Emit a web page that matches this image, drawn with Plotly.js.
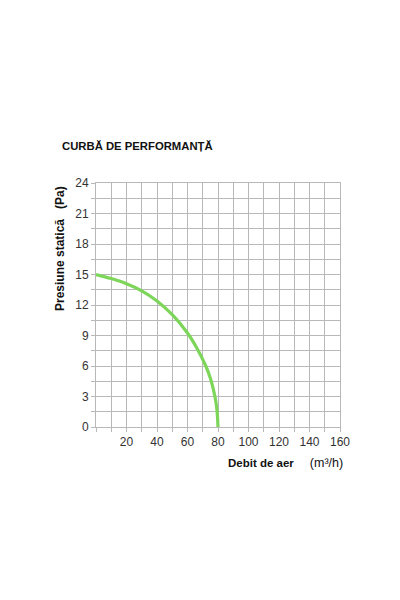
<!DOCTYPE html>
<html>
<head>
<meta charset="utf-8">
<script src="https://cdn.plot.ly/plotly-3.0.1.min.js"></script>
<style>html,body{margin:0;padding:0;background:#fff;}#chart{width:400px;height:600px;}</style>
</head>
<body>
<div id="chart"></div>
<script>
const flowValues = [0, 10, 20, 30, 40, 50, 60, 66, 72, 75, 78, 79.3, 80];
const pressureValues = [15, 14.6, 14.1, 13.4, 12.4, 11.05, 9.25, 7.8, 6.0, 4.8, 3.0, 1.7, 0];
const xTickVals = [20, 40, 60, 80, 100, 120, 140, 160];
const yTickVals = [0, 3, 6, 9, 12, 15, 18, 21, 24];
const chartTitle = "CURBĂ DE PERFORMANȚĂ";
const xTitleMain = "Debit de aer";
const xTitleUnit = "(m³/h)";
const yTitleMain = "Presiune statică";
const yTitleUnit = "(Pa)";

const font = 'Liberation Sans, Arial, sans-serif';
const data = [{
  x: flowValues, y: pressureValues, type: 'scatter', mode: 'lines',
  line: {color: '#7dd65a', width: 3.2, shape: 'spline', smoothing: 1},
  hoverinfo: 'skip'
}];
const layout = {
  width: 400, height: 600,
  margin: {l: 96, r: 60, t: 183, b: 173},
  paper_bgcolor: '#fff', plot_bgcolor: '#fff',
  showlegend: false,
  font: {family: font, size: 12, color: '#333'},
  title: {text: '<b>' + chartTitle + '</b>', xref: 'container', yref: 'container',
          x: 62/400, xanchor: 'left', y: 1 - 146/600, yanchor: 'middle',
          font: {family: font, size: 11.3, color: '#111'}},
  xaxis: {range: [0, 160], tickvals: xTickVals, ticktext: xTickVals.map(String),
          showgrid: true, gridcolor: '#b8b8b8', gridwidth: 1,
          ticks: 'outside', ticklen: 4, tickcolor: '#b8b8b8',
          minor: {dtick: 10, tick0: 0, showgrid: true, gridcolor: '#b8b8b8', ticks: 'outside', ticklen: 4, tickcolor: '#b8b8b8'},
          showline: true, linecolor: '#b8b8b8', zeroline: false, mirror: true,
          tickfont: {size: 12, color: '#333'}, fixedrange: true},
  yaxis: {range: [0, 24], tickvals: yTickVals, ticktext: yTickVals.map(String),
          showgrid: true, gridcolor: '#b8b8b8', gridwidth: 1,
          ticks: 'outside', ticklen: 4, tickcolor: '#b8b8b8',
          minor: {dtick: 1.5, tick0: 0, showgrid: true, gridcolor: '#b8b8b8', ticks: 'outside', ticklen: 4, tickcolor: '#b8b8b8'},
          showline: true, linecolor: '#b8b8b8', zeroline: false, mirror: true,
          tickfont: {size: 12, color: '#333'}, fixedrange: true},
  annotations: [
    {text: '<b>' + yTitleMain + '\u00a0\u00a0\u00a0' + yTitleUnit + '</b>', xref: 'paper', yref: 'paper',
     x: (60-96)/244, y: (427-249)/244, xanchor: 'center', yanchor: 'middle',
     textangle: -90, showarrow: false, font: {family: font, size: 12, color: '#111'}},
    {text: '<b>' + xTitleMain + '</b>\u00a0\u00a0\u00a0\u00a0\u00a0<span style="font-size:12.5px">' + xTitleUnit + '</span>', xref: 'paper', yref: 'paper',
     x: (226-96)/244, y: (427-463)/244, xanchor: 'left', yanchor: 'middle',
     showarrow: false, font: {family: font, size: 11.5, color: '#111'}}
  ]
};
Plotly.newPlot('chart', data, layout, {displayModeBar: false, staticPlot: true});
</script>
</body>
</html>
